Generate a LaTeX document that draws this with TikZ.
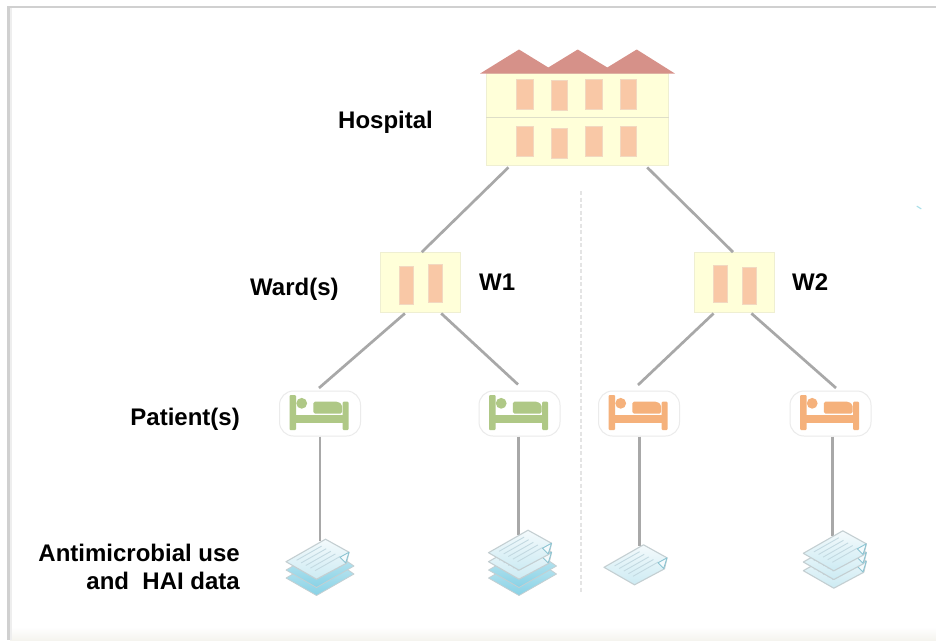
\documentclass[tikz,border=0pt]{standalone}
\usepackage{fontspec}
\setmainfont{Liberation Sans}
\usetikzlibrary{calc}
\definecolor{linegray}{HTML}{A8A8A8}
\definecolor{wallc}{HTML}{FFFFD9}
\definecolor{wallb}{HTML}{EFEFD2}
\definecolor{floorl}{HTML}{DEDEC8}
\definecolor{winc}{HTML}{F9C8A6}
\definecolor{winb}{HTML}{F2D8C0}
\definecolor{roofc}{HTML}{D69189}
\definecolor{bedb}{HTML}{EBEBEB}
\definecolor{bedg}{HTML}{AFC886}
\definecolor{bedo}{HTML}{F5B17B}
\definecolor{sheetb}{HTML}{C4CFD2}
\definecolor{pagetop}{HTML}{F4FAFC}
\definecolor{pagebot}{HTML}{CDEBF3}
\definecolor{linec}{HTML}{C3D9E1}
\definecolor{foldc}{HTML}{8CC4D2}
\definecolor{undertop}{HTML}{C8E9F2}
\definecolor{underbot}{HTML}{88D2E6}
\definecolor{frameg}{HTML}{D0D0D0}
\definecolor{framel}{HTML}{EEEEEE}
\definecolor{bottomg}{HTML}{F5F4EF}
\definecolor{dashg}{HTML}{E4E4E4}
\definecolor{tick}{HTML}{A9E0EA}
\tikzset{
  conn/.style={draw=linegray,line width=2.7pt},
  sep/.style={draw=dashg,line width=1.4pt,dash pattern=on 4pt off 2.5pt},
  lbl/.style={font=\fontsize{24}{28}\selectfont\bfseries,text=black,inner sep=0pt,align=right},
  wall/.style={fill=wallc,draw=wallb,line width=0.8pt,inner sep=0pt,minimum width=#1},
  win/.style={fill=winc,draw=winb,line width=0.6pt},
  frame/.style={draw=bedb,fill=white,rounded corners=14pt,line width=1pt,inner sep=0pt,minimum width=81pt,minimum height=45pt},
  docbox/.style={inner sep=0pt,minimum width=70pt,minimum height=#1},
  pics/bed/.style={code={
    \fill[#1,rounded corners=1pt] (-30.5,-18.5) rectangle (-24,16.5);
    \fill[#1,rounded corners=1pt] (22.7,-11.8) rectangle (28.5,16.5);
    \fill[#1] (-26,1.5) rectangle (24,9.2);
    \fill[#1] (-18.3,-10.2) circle (5.4);
    \fill[#1,rounded corners=1.5pt] (-6.7,-11.8) -- (18,-11.8) -- (22,-9) -- (22,0) -- (-6.7,0) -- cycle;
  }},
  pics/under/.style={code={
    \shade[top color=undertop,bottom color=underbot,draw=sheetb,line width=0.8pt,line join=round]
      (0,0) -- (40,-23) -- (68,-4) -- (30.5,17.5) -- cycle;
  }},
  pics/page/.style={code={
    \shade[top color=pagetop,bottom color=pagebot,draw=sheetb,line width=1.1pt,line join=round]
      (0,0) -- (39.5,-22.5) -- (63,-9.5) -- (60.5,1.5) -- (30.5,17.5) -- cycle;
    \foreach \k in {1,2,3,4,5}{
      \draw[linec,line width=0.9pt] ($(6,-4)+\k*(4.6,2.6)$) -- ++(25,-14.2);
    }
    \draw[foldc,fill=pagetop,line width=0.9pt,line join=round] (63,-9.5) -- (54,-4.5) -- (59.7,1.2) -- cycle;
  }}
}
\begin{document}
\begin{tikzpicture}[x=1pt,y=-1pt]
\useasboundingbox (0,0) rectangle (936,640);
\fill[white] (0,0) rectangle (936,640);
% slide edge
\shade[top color=white,bottom color=bottomg] (10,627) rectangle (936,640);
\fill[framel] (10,7.5) rectangle (12,640);
\fill[frameg] (7.3,5.5) rectangle (10,640);
\fill[frameg] (7.3,5.5) rectangle (936,7.8);
\fill[tick] (917,205.6) -- (921.5,208.4) -- (921,209.4) -- (916.5,206.6) -- cycle;
% divider
\coordinate (sepa) at (581,191);
\coordinate (sepb) at (581,593);
\draw[sep] (sepa) -- (sepb);
% hospital
\node[wall=182pt,minimum height=44pt] (floor1) at (577.8,95.2) {};
\node[wall=182pt,minimum height=48pt] (floor2) at (577.8,141) {};
\draw[floorl,line width=1.6pt] (floor1.south west) -- (floor1.south east);
\fill[roofc] (480,73.6) -- (519,49.5) -- (548.3,67.5) -- (577.7,49.5) -- (607.3,67.5) -- (636.7,49.5) -- (675,73.6) -- cycle;
\foreach \xx/\yy in {516.7/79.3,551/80.3,585.7/79.3,620/79.3,516.7/126.7,551/128,585.7/126.7,620/126.7}
  \draw[win] (\xx,\yy) rectangle ++(16.6,30);
% wards
\node[wall=80pt,minimum height=60pt] (w1) at (420.8,282.5) {};
\draw[win] (399,266.7) rectangle ++(14.3,37.3);
\draw[win] (428,264.7) rectangle ++(14.3,38);
\node[wall=80pt,minimum height=60pt] (w2) at (734,282.5) {};
\draw[win] (713,265) rectangle ++(14.3,37.3);
\draw[win] (742,267) rectangle ++(14.3,37.3);
% beds
\foreach \nm/\cx/\col in {p1/320/bedg,p2/519.5/bedg,p3/639/bedo,p4/830.5/bedo}{
  \node[frame] (\nm) at (\cx,413.5) {};
  \pic at (\cx,413.5) {bed=\col};
}
% document anchors
\node[docbox=48pt] (d1) at (320,565) {};
\node[docbox=60pt] (d2) at (518.5,565) {};
\node[docbox=37pt] (d3) at (639.3,565) {};
\node[docbox=58pt] (d4) at (832.7,565) {};
% connectors
\draw[conn] ($(floor2.south west)+(22,2)$) -- ($(w1.north)+(1,0)$);
\draw[conn] ($(floor2.south east)+(-22,2)$) -- ($(w2.north)+(-1,0)$);
\draw[conn] ($(w1.south west)+(24.5,0.5)$) -- ($(p1.north)+(-1,-2.5)$);
\draw[conn] ($(w1.south east)+(-20,0.5)$) -- ($(p2.north)+(-1.5,-6)$);
\draw[conn] ($(w2.south west)+(20,0.5)$) -- ($(p3.north)+(-1,-5.5)$);
\draw[conn] ($(w2.south east)+(-23,0.5)$) -- ($(p4.north)+(5.5,-2.5)$);
\draw[conn] (p1.south) -- (d1.north);
\draw[conn] ($(p2.south)+(-1,0)$) -- (d2.north);
\draw[conn] ($(p3.south)+(0.3,0)$) -- (d3.north);
\draw[conn] ($(p4.south)+(2.2,0)$) -- (d4.north);
% document stacks
\pic at (286,578) {under};
\pic at (286,570) {under};
\pic at (286,561.7) {page};
\pic at (488.5,578) {under};
\pic at (488.5,570) {under};
\pic at (488.5,561.7) {page};
\pic at (488.5,552.7) {page};
\pic at (604,567.3) {page};
\pic at (803.3,570.7) {page};
\pic at (803.3,562) {page};
\pic at (803.3,553.3) {page};
% labels
\node[lbl,anchor=base west] (lh) at (338,128) {Hospital};
\node[lbl,anchor=base west] (lw) at (250,295) {Ward(s)};
\node[lbl,anchor=base west] (lw1) at (479,290) {W1};
\node[lbl,anchor=base west] (lw2) at (792,290) {W2};
\node[lbl,anchor=base east] (lp) at (240,425) {Patient(s)};
\node[lbl,anchor=east] (ld) at (240,567) {Antimicrobial use\\and\ \ HAI data};
\end{tikzpicture}
\end{document}
